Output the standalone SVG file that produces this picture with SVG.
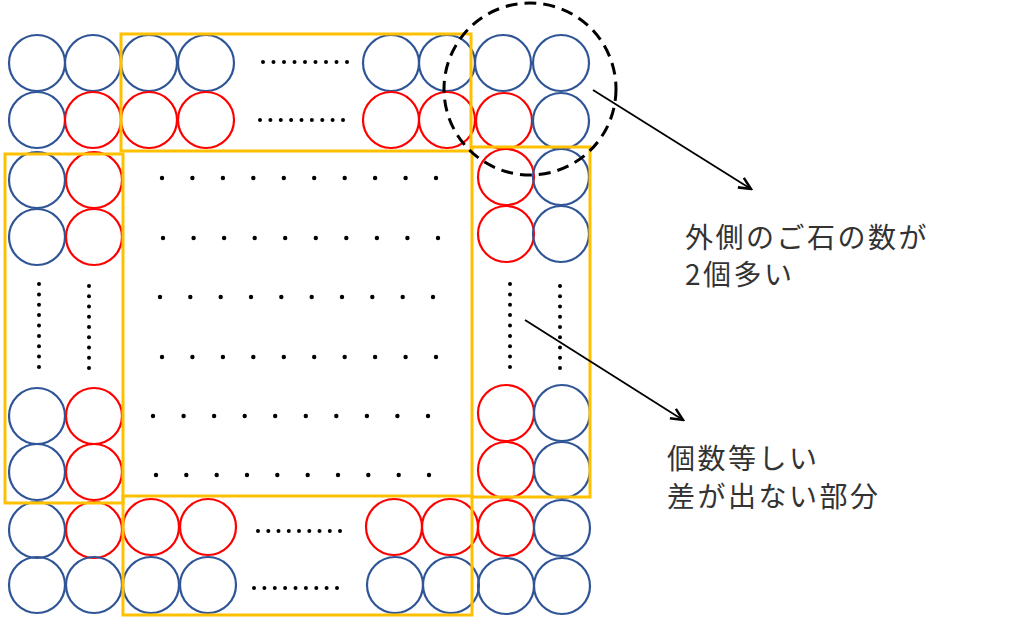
<svg xmlns="http://www.w3.org/2000/svg" width="1010" height="628" viewBox="0 0 1010 628">
<style>
.b{fill:none;stroke:#2F5597;stroke-width:2.2}
.r{fill:none;stroke:#FF0000;stroke-width:2.2}
.y{fill:none;stroke:#FFC000;stroke-width:3}
.d{fill:#000}
.lbl{font-family:"Noto Sans CJK JP","Noto Sans",sans-serif;font-size:28px;letter-spacing:2.5px;fill:#333}
.ar{fill:none;stroke:#000;stroke-width:1.8}
</style>
<defs>
<marker id="ah" viewBox="0 0 12 12" refX="10.5" refY="6" markerWidth="16" markerHeight="16" markerUnits="userSpaceOnUse" orient="auto">
<path d="M1.5,1.8 L10.5,6 L1.5,10.2" fill="none" stroke="#000" stroke-width="1.9" stroke-linejoin="miter"/>
</marker>
</defs>
<rect width="1010" height="628" fill="#fff"/>

<g id="top-left">
<circle class="b" cx="37" cy="63" r="28"/><circle class="b" cx="93" cy="63" r="28"/>
<circle class="b" cx="37" cy="120" r="28"/><circle class="r" cx="93" cy="120" r="28"/>
</g>
<g id="top-row">
<circle class="b" cx="149" cy="63" r="28"/><circle class="b" cx="206" cy="63" r="28"/>
<circle class="r" cx="149" cy="120" r="28"/><circle class="r" cx="206" cy="120" r="28"/>
<circle class="b" cx="391" cy="63" r="28"/><circle class="b" cx="447" cy="63" r="28"/>
<circle class="r" cx="391" cy="120" r="28"/><circle class="r" cx="447" cy="120" r="28"/>
<g class="d">
<circle cx="263" cy="62" r="2"/><circle cx="273.5" cy="62" r="2"/><circle cx="284" cy="62" r="2"/><circle cx="294.5" cy="62" r="2"/><circle cx="305" cy="62" r="2"/><circle cx="315.5" cy="62" r="2"/><circle cx="326" cy="62" r="2"/><circle cx="336.5" cy="62" r="2"/><circle cx="347" cy="62" r="2"/>
<circle cx="260" cy="120" r="2"/><circle cx="270.4" cy="120" r="2"/><circle cx="280.8" cy="120" r="2"/><circle cx="291.1" cy="120" r="2"/><circle cx="301.5" cy="120" r="2"/><circle cx="311.9" cy="120" r="2"/><circle cx="322.3" cy="120" r="2"/><circle cx="332.6" cy="120" r="2"/><circle cx="343" cy="120" r="2"/>
</g>
</g>
<g id="top-right">
<circle class="b" cx="503" cy="63" r="28"/><circle class="b" cx="561" cy="63" r="28"/>
<circle class="r" cx="504" cy="121" r="28"/><circle class="b" cx="561" cy="121" r="28"/>
</g>
<g id="right-col">
<circle class="r" cx="506" cy="177" r="28"/><circle class="b" cx="561" cy="177" r="28"/>
<circle class="r" cx="506" cy="234" r="28"/><circle class="b" cx="561" cy="234" r="28"/>
<circle class="r" cx="506" cy="413" r="28"/><circle class="b" cx="562" cy="413" r="28"/>
<circle class="r" cx="506" cy="470" r="28"/><circle class="b" cx="562" cy="470" r="28"/>
<g class="d">
<circle cx="510" cy="284" r="2"/><circle cx="510" cy="294.4" r="2"/><circle cx="510" cy="304.8" r="2"/><circle cx="510" cy="315.1" r="2"/><circle cx="510" cy="325.5" r="2"/><circle cx="510" cy="335.9" r="2"/><circle cx="510" cy="346.3" r="2"/><circle cx="510" cy="356.6" r="2"/><circle cx="510" cy="367" r="2"/>
<circle cx="560" cy="286" r="2"/><circle cx="560" cy="296.3" r="2"/><circle cx="560" cy="306.5" r="2"/><circle cx="560" cy="316.8" r="2"/><circle cx="560" cy="327" r="2"/><circle cx="560" cy="337.3" r="2"/><circle cx="560" cy="347.5" r="2"/><circle cx="560" cy="357.8" r="2"/><circle cx="560" cy="368" r="2"/>
</g>
</g>
<g id="bottom-right">
<circle class="r" cx="506" cy="528" r="28"/><circle class="b" cx="562" cy="528" r="28"/>
<circle class="b" cx="506" cy="586" r="28"/><circle class="b" cx="562" cy="586" r="28"/>
</g>
<g id="bottom-row">
<circle class="r" cx="151" cy="527" r="28"/><circle class="r" cx="208" cy="527" r="28"/>
<circle class="b" cx="151" cy="585" r="28"/><circle class="b" cx="208" cy="585" r="28"/>
<circle class="r" cx="394" cy="527" r="28"/><circle class="r" cx="450" cy="527" r="28"/>
<circle class="b" cx="395" cy="585" r="28"/><circle class="b" cx="451" cy="585" r="28"/>
<g class="d">
<circle cx="258" cy="531" r="2"/><circle cx="268.3" cy="531" r="2"/><circle cx="278.5" cy="531" r="2"/><circle cx="288.8" cy="531" r="2"/><circle cx="299" cy="531" r="2"/><circle cx="309.3" cy="531" r="2"/><circle cx="319.5" cy="531" r="2"/><circle cx="329.8" cy="531" r="2"/><circle cx="340" cy="531" r="2"/>
<circle cx="254" cy="588" r="2"/><circle cx="264.4" cy="588" r="2"/><circle cx="274.8" cy="588" r="2"/><circle cx="285.1" cy="588" r="2"/><circle cx="295.5" cy="588" r="2"/><circle cx="305.9" cy="588" r="2"/><circle cx="316.3" cy="588" r="2"/><circle cx="326.6" cy="588" r="2"/><circle cx="337" cy="588" r="2"/>
</g>
</g>
<g id="bottom-left">
<circle class="b" cx="37" cy="530" r="28"/><circle class="r" cx="94" cy="530" r="28"/>
<circle class="b" cx="37" cy="585" r="28"/><circle class="b" cx="94" cy="585" r="28"/>
</g>
<g id="left-col">
<circle class="b" cx="37" cy="180" r="28"/><circle class="r" cx="94" cy="180" r="28"/>
<circle class="b" cx="37" cy="237" r="28"/><circle class="r" cx="94" cy="237" r="28"/>
<circle class="b" cx="37" cy="416" r="28"/><circle class="r" cx="94" cy="416" r="28"/>
<circle class="b" cx="37" cy="472" r="28"/><circle class="r" cx="94" cy="472" r="28"/>
<g class="d">
<circle cx="39" cy="284" r="2"/><circle cx="39" cy="294.4" r="2"/><circle cx="39" cy="304.8" r="2"/><circle cx="39" cy="315.1" r="2"/><circle cx="39" cy="325.5" r="2"/><circle cx="39" cy="335.9" r="2"/><circle cx="39" cy="346.3" r="2"/><circle cx="39" cy="356.6" r="2"/><circle cx="39" cy="367" r="2"/>
<circle cx="89" cy="286" r="2"/><circle cx="89" cy="296.3" r="2"/><circle cx="89" cy="306.5" r="2"/><circle cx="89" cy="316.8" r="2"/><circle cx="89" cy="327" r="2"/><circle cx="89" cy="337.3" r="2"/><circle cx="89" cy="347.5" r="2"/><circle cx="89" cy="357.8" r="2"/><circle cx="89" cy="368" r="2"/>
</g>
</g>
<g id="center-dots" class="d">
<circle cx="162" cy="178" r="2.2"/><circle cx="192.4" cy="178" r="2.2"/><circle cx="222.9" cy="178" r="2.2"/><circle cx="253.3" cy="178" r="2.2"/><circle cx="283.8" cy="178" r="2.2"/><circle cx="314.2" cy="178" r="2.2"/><circle cx="344.7" cy="178" r="2.2"/><circle cx="375.1" cy="178" r="2.2"/><circle cx="405.6" cy="178" r="2.2"/><circle cx="436" cy="178" r="2.2"/>
<circle cx="163" cy="238" r="2.2"/><circle cx="193.6" cy="238" r="2.2"/><circle cx="224.1" cy="238" r="2.2"/><circle cx="254.7" cy="238" r="2.2"/><circle cx="285.2" cy="238" r="2.2"/><circle cx="315.8" cy="238" r="2.2"/><circle cx="346.3" cy="238" r="2.2"/><circle cx="376.9" cy="238" r="2.2"/><circle cx="407.4" cy="238" r="2.2"/><circle cx="438" cy="238" r="2.2"/>
<circle cx="160" cy="297" r="2.2"/><circle cx="190.3" cy="297" r="2.2"/><circle cx="220.7" cy="297" r="2.2"/><circle cx="251" cy="297" r="2.2"/><circle cx="281.3" cy="297" r="2.2"/><circle cx="311.7" cy="297" r="2.2"/><circle cx="342" cy="297" r="2.2"/><circle cx="372.3" cy="297" r="2.2"/><circle cx="402.7" cy="297" r="2.2"/><circle cx="433" cy="297" r="2.2"/>
<circle cx="162" cy="357" r="2.2"/><circle cx="192.4" cy="357" r="2.2"/><circle cx="222.9" cy="357" r="2.2"/><circle cx="253.3" cy="357" r="2.2"/><circle cx="283.8" cy="357" r="2.2"/><circle cx="314.2" cy="357" r="2.2"/><circle cx="344.7" cy="357" r="2.2"/><circle cx="375.1" cy="357" r="2.2"/><circle cx="405.6" cy="357" r="2.2"/><circle cx="436" cy="357" r="2.2"/>
<circle cx="153" cy="416" r="2.2"/><circle cx="183.6" cy="416" r="2.2"/><circle cx="214.1" cy="416" r="2.2"/><circle cx="244.7" cy="416" r="2.2"/><circle cx="275.2" cy="416" r="2.2"/><circle cx="305.8" cy="416" r="2.2"/><circle cx="336.3" cy="416" r="2.2"/><circle cx="366.9" cy="416" r="2.2"/><circle cx="397.4" cy="416" r="2.2"/><circle cx="428" cy="416" r="2.2"/>
<circle cx="156" cy="475" r="2.2"/><circle cx="186.3" cy="475" r="2.2"/><circle cx="216.7" cy="475" r="2.2"/><circle cx="247" cy="475" r="2.2"/><circle cx="277.3" cy="475" r="2.2"/><circle cx="307.7" cy="475" r="2.2"/><circle cx="338" cy="475" r="2.2"/><circle cx="368.3" cy="475" r="2.2"/><circle cx="398.7" cy="475" r="2.2"/><circle cx="429" cy="475" r="2.2"/>
</g>
<g id="frames">
<rect class="y" x="121" y="34" width="350" height="117"/>
<rect class="y" x="472" y="147" width="118" height="350"/>
<rect class="y" x="123" y="496" width="349" height="119"/>
<rect class="y" x="5" y="154" width="118" height="349"/>
</g>
<g id="highlight">
<circle cx="530" cy="89" r="86" fill="none" stroke="#000" stroke-width="3" stroke-dasharray="12 7"/>
</g>
<g id="connectors">
<line class="ar" x1="593" y1="90" x2="751" y2="189" marker-end="url(#ah)"/>
<line class="ar" x1="525" y1="320" x2="683" y2="420" marker-end="url(#ah)"/>
</g>
<g id="label-outer">
<text class="lbl" x="685" y="248">外側のご石の数が</text>
<text class="lbl" x="685" y="285">2個多い</text>
</g>
<g id="label-equal">
<text class="lbl" x="667" y="469">個数等しい</text>
<text class="lbl" x="667" y="507">差が出ない部分</text>
</g>
</svg>
